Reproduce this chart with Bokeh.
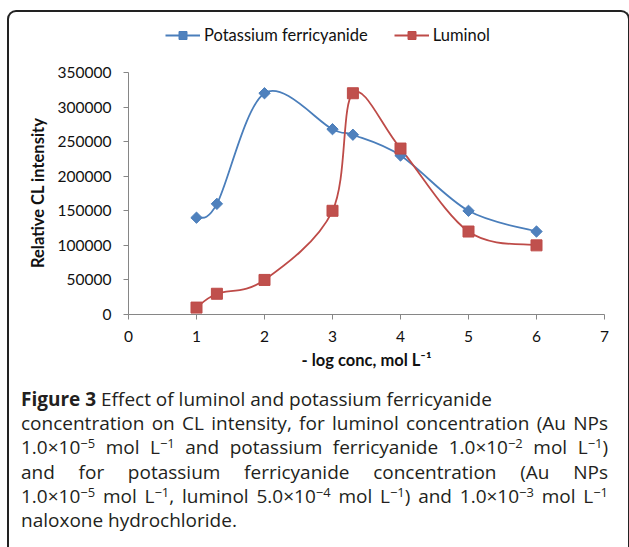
from bokeh.plotting import figure
from bokeh.models import (ColumnDataSource, Legend, LegendItem, FixedTicker,
                          BasicTickFormatter, Div, Range1d)
from bokeh.layouts import column
from bokeh.embed import file_html
from bokeh.resources import INLINE

# ---- data ----
log_conc = [1, 1.3, 2, 3, 3.3, 4, 5, 6]
ferricyanide = [140000, 160000, 320000, 268000, 260000, 230000, 150000, 120000]
luminol = [10000, 30000, 50000, 150000, 320000, 240000, 120000, 100000]
x_ticks = [0, 1, 2, 3, 4, 5, 6, 7]
y_ticks = [0, 50000, 100000, 150000, 200000, 250000, 300000, 350000]
series_names = ["Potassium ferricyanide", "Luminol"]
x_title = "- log conc, mol L\u207b\u00b9"
y_title = "Relative CL intensity"

SUP = '<span style="vertical-align:0.45em;font-size:0.68em;line-height:0">{}</span>'
caption_lines = [
    "<b>Figure 3</b> Effect of luminol and potassium ferricyanide",
    "concentration on CL intensity, for luminol concentration (Au NPs",
    "1.0\u00d710" + SUP.format("\u22125") + " mol L" + SUP.format("\u22121")
    + " and potassium ferricyanide 1.0\u00d710" + SUP.format("\u22122")
    + " mol L" + SUP.format("\u22121") + ")",
    "and for potassium ferricyanide concentration (Au NPs",
    "1.0\u00d710" + SUP.format("\u22125") + " mol L" + SUP.format("\u22121")
    + ", luminol 5.0\u00d710" + SUP.format("\u22124") + " mol L" + SUP.format("\u22121")
    + ") and 1.0\u00d710" + SUP.format("\u22123") + " mol L" + SUP.format("\u22121"),
    "naloxone hydrochloride.",
]
justified = [False, True, True, True, True, False]

BLUE_LINE = "#4A7EBB"
BLUE_FILL = "#4F81BD"
RED_LINE = "#BE4B48"
RED_FILL = "#C0504D"
FONT = "Lato"

# layout (pixels)
PLOT_H = 242        # height of the 0..350000 axis span
HEADROOM = 55       # room above the axis for the legend
# the axis title is centred on the frame; em spaces after it move the visible
# text down so that it is centred on the 0..350000 span instead
Y_TITLE_PAD = "\u2003\u2003\u2003\u2002\u2002"


def smooth_segments(xs, ys, k=1.0 / 6.0):
    n = len(xs)
    out = {key: [] for key in ("x0", "y0", "x1", "y1", "cx0", "cy0", "cx1", "cy1")}
    for i in range(n - 1):
        ip = max(i - 1, 0)
        inx = min(i + 2, n - 1)
        out["x0"].append(xs[i]); out["y0"].append(ys[i])
        out["x1"].append(xs[i + 1]); out["y1"].append(ys[i + 1])
        out["cx0"].append(xs[i] + (xs[i + 1] - xs[ip]) * k)
        out["cy0"].append(ys[i] + (ys[i + 1] - ys[ip]) * k)
        out["cx1"].append(xs[i + 1] - (xs[inx] - xs[i]) * k)
        out["cy1"].append(ys[i + 1] - (ys[inx] - ys[i]) * k)
    return ColumnDataSource(out)


y_top = y_ticks[-1] * (PLOT_H + HEADROOM) / PLOT_H
p = figure(width=609, height=360, output_backend="svg", toolbar_location=None,
           x_range=Range1d(x_ticks[0], x_ticks[-1]), y_range=Range1d(y_ticks[0], y_top),
           min_border_left=119, min_border_right=14, min_border_top=5,
           min_border_bottom=58)
p.outline_line_color = None
p.background_fill_color = None
p.border_fill_color = None
p.xgrid.visible = False
p.ygrid.visible = False

p.bezier(x0="x0", y0="y0", x1="x1", y1="y1", cx0="cx0", cy0="cy0", cx1="cx1", cy1="cy1",
         source=smooth_segments(log_conc, ferricyanide), line_color=BLUE_LINE, line_width=1.8)
p.bezier(x0="x0", y0="y0", x1="x1", y1="y1", cx0="cx0", cy0="cy0", cx1="cx1", cy1="cy1",
         source=smooth_segments(log_conc, luminol), line_color=RED_LINE, line_width=1.8)

l1 = p.line(log_conc, ferricyanide, line_color=BLUE_LINE, line_width=1.8, visible=False)
l2 = p.line(log_conc, luminol, line_color=RED_LINE, line_width=1.8, visible=False)
s1 = p.scatter(log_conc, ferricyanide, marker="square", angle=0.785398, size=8,
               fill_color=BLUE_FILL, line_color=BLUE_LINE, line_width=1)
s2 = p.scatter(log_conc, luminol, marker="square", size=11,
               fill_color=RED_FILL, line_color=RED_LINE, line_width=1)

for ax in (p.xaxis[0], p.yaxis[0]):
    ax.axis_line_color = "#868686"
    ax.major_tick_line_color = "#868686"
    ax.minor_tick_line_color = None
    ax.major_tick_out = 5
    ax.major_tick_in = 0
    ax.major_label_text_font = FONT
    ax.major_label_text_font_size = "15.5px"
    ax.major_label_text_color = "#111111"
    ax.axis_label_text_font = FONT
    ax.axis_label_text_font_size = "16.5px"
    ax.axis_label_text_font_style = "bold"
    ax.axis_label_text_color = "#111111"

p.xaxis.ticker = FixedTicker(ticks=x_ticks)
p.yaxis.ticker = FixedTicker(ticks=y_ticks)
p.yaxis.bounds = (y_ticks[0], y_ticks[-1])
p.yaxis.formatter = BasicTickFormatter(use_scientific=False)
p.xaxis.major_label_standoff = 11
p.yaxis.major_label_standoff = 12
p.xaxis.axis_label = x_title
p.yaxis.axis_label = y_title + Y_TITLE_PAD
p.xaxis.axis_label_standoff = 5
p.yaxis.axis_label_standoff = 7

legend = Legend(items=[LegendItem(label=series_names[0], renderers=[l1, s1]),
                       LegendItem(label=series_names[1], renderers=[l2, s2])],
                orientation="horizontal", location=(37, PLOT_H + 27),
                padding=0, margin=0, spacing=26, label_standoff=4,
                glyph_width=35, glyph_height=20, label_height=20,
                border_line_color=None, background_fill_alpha=0,
                label_text_font=FONT, label_text_font_size="16.5px",
                label_text_color="#111111")
p.add_layout(legend)

rows = []
for line, just in zip(caption_lines, justified):
    align = "text-align:justify;text-align-last:justify;" if just else "text-align:left;"
    rows.append('<div style="%swhite-space:nowrap;">%s</div>' % (align, line))
html = ('<div style="font-family:\'Open Sans\';font-size:19px;line-height:24.2px;color:#231f20;'
        'box-sizing:border-box;padding:10px 0 0 7px;width:594px;">' + "".join(rows) + "</div>")
cap = Div(text=html, width=609, height=172)

layout = column(p, cap, styles={"margin-top": "10px", "margin-left": "7px",
                                "border": "2px solid #222",
                                "border-bottom": "none",
                                "border-radius": "9px 9px 0 0"})

open("out.html", "w").write(file_html(layout, INLINE))
